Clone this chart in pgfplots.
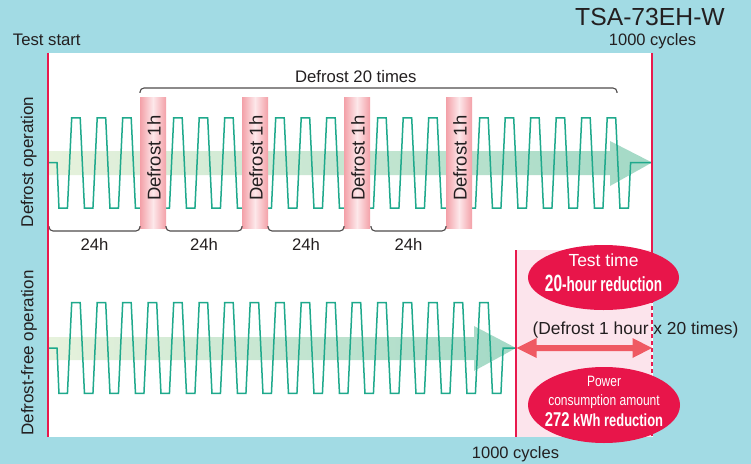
\documentclass[border=0pt]{standalone}
\usepackage{fontspec}
\setmainfont{Liberation Sans}
\usepackage{graphicx}
\usepackage{pgfplots}
\pgfplotsset{compat=1.18}
\definecolor{bg}{HTML}{A2DBE4}
\definecolor{txt}{HTML}{231F20}
\definecolor{wave}{HTML}{1FA98C}
\definecolor{crim}{HTML}{E8154A}
\definecolor{redline}{HTML}{E8194D}
\definecolor{pinkarea}{HTML}{FCE4EC}
\definecolor{barpink}{HTML}{F3A0A8}
\definecolor{barlight}{HTML}{FDE8EA}
\definecolor{grnL}{HTML}{E7F2DC}
\definecolor{grnR}{HTML}{A3D9C6}
\definecolor{dblarrow}{HTML}{EF5A63}
\newcommand\fs[1]{\fontsize{#1bp}{#1bp}\selectfont}
\begin{document}
\begin{tikzpicture}
\begin{axis}[width=751bp,height=464bp,scale only axis,
  xmin=0,xmax=751,ymin=0,ymax=464,y dir=reverse,hide axis,clip=false]
% background and panels
\fill[bg] (0,0) rectangle (751,464);
\fill[white] (48,53) rectangle (653,437);
\fill[pinkarea] (516,250) rectangle (652,437);
% green arrows
\shade[left color=grnL,right color=grnR] (48,151) -- (610,151) -- (610,141) -- (652,162.5) -- (610,186) -- (610,175) -- (48,175) -- cycle;
\shade[left color=grnL,right color=grnR] (48,337) -- (474,337) -- (474,326) -- (516,348) -- (474,371) -- (474,360) -- (48,360) -- cycle;
% top waveform
\addplot[wave,line width=1.5bp,mark=none] coordinates {
(48,162.5) (57,162.5) (58.95,208) (67.45,208)
(71.7,118) (80.2,118) (84.45,208) (92.95,208)
(97.2,118) (105.7,118) (109.95,208) (118.45,208)
(122.7,118) (131.2,118) (135.45,208) (143.95,208)
(148.2,118) (156.7,118) (160.95,208) (169.45,208)
(173.7,118) (182.2,118) (186.45,208) (194.95,208)
(199.2,118) (207.7,118) (211.95,208) (220.45,208)
(224.7,118) (233.2,118) (237.45,208) (245.95,208)
(250.2,118) (258.7,118) (262.95,208) (271.45,208)
(275.7,118) (284.2,118) (288.45,208) (296.95,208)
(301.2,118) (309.7,118) (313.95,208) (322.45,208)
(326.7,118) (335.2,118) (339.45,208) (347.95,208)
(352.2,118) (360.7,118) (364.95,208) (373.45,208)
(377.7,118) (386.2,118) (390.45,208) (398.95,208)
(403.2,118) (411.7,118) (415.95,208) (424.45,208)
(428.7,118) (437.2,118) (441.45,208) (449.95,208)
(454.2,118) (462.7,118) (466.95,208) (475.45,208)
(479.7,118) (488.2,118) (492.45,208) (500.95,208)
(505.2,118) (513.7,118) (517.95,208) (526.45,208)
(530.7,118) (539.2,118) (543.45,208) (551.95,208)
(556.2,118) (564.7,118) (568.95,208) (577.45,208)
(581.7,118) (590.2,118) (594.45,208) (602.95,208)
(607.2,118) (615.7,118) (619.95,208) (628.45,208)
(630.6,162.5) (652,162.5)};
% bottom waveform
\addplot[wave,line width=1.5bp,mark=none] coordinates {
(48,348) (57,348) (58.95,393.3) (67.45,393.3)
(71.7,302.7) (80.2,302.7) (84.45,393.3) (92.95,393.3)
(97.2,302.7) (105.7,302.7) (109.95,393.3) (118.45,393.3)
(122.7,302.7) (131.2,302.7) (135.45,393.3) (143.95,393.3)
(148.2,302.7) (156.7,302.7) (160.95,393.3) (169.45,393.3)
(173.7,302.7) (182.2,302.7) (186.45,393.3) (194.95,393.3)
(199.2,302.7) (207.7,302.7) (211.95,393.3) (220.45,393.3)
(224.7,302.7) (233.2,302.7) (237.45,393.3) (245.95,393.3)
(250.2,302.7) (258.7,302.7) (262.95,393.3) (271.45,393.3)
(275.7,302.7) (284.2,302.7) (288.45,393.3) (296.95,393.3)
(301.2,302.7) (309.7,302.7) (313.95,393.3) (322.45,393.3)
(326.7,302.7) (335.2,302.7) (339.45,393.3) (347.95,393.3)
(352.2,302.7) (360.7,302.7) (364.95,393.3) (373.45,393.3)
(377.7,302.7) (386.2,302.7) (390.45,393.3) (398.95,393.3)
(403.2,302.7) (411.7,302.7) (415.95,393.3) (424.45,393.3)
(428.7,302.7) (437.2,302.7) (441.45,393.3) (449.95,393.3)
(454.2,302.7) (462.7,302.7) (466.95,393.3) (475.45,393.3)
(479.7,302.7) (488.2,302.7) (492.45,393.3) (500.95,393.3)
(503.1,348) (516,348)};
% defrost bars
\shade[left color=barpink,right color=barpink,middle color=barlight] (140,98) rectangle (166,228);
\shade[left color=barpink,right color=barpink,middle color=barlight] (242,98) rectangle (268,228);
\shade[left color=barpink,right color=barpink,middle color=barlight] (344,98) rectangle (370,228);
\shade[left color=barpink,right color=barpink,middle color=barlight] (446,98) rectangle (472,228);
\node[rotate=90,anchor=base,text=txt,inner sep=0pt,font={\fs{18.5}}] at (160.7,158.3) {Defrost 1h};
\node[rotate=90,anchor=base,text=txt,inner sep=0pt,font={\fs{18.5}}] at (262.7,158.3) {Defrost 1h};
\node[rotate=90,anchor=base,text=txt,inner sep=0pt,font={\fs{18.5}}] at (364.7,158.3) {Defrost 1h};
\node[rotate=90,anchor=base,text=txt,inner sep=0pt,font={\fs{18.5}}] at (466.7,158.3) {Defrost 1h};
% brackets
\draw[txt!80,line width=1.1bp,rounded corners=4bp] (140,93) -- (140,88) -- (617,88) -- (617,93);
\node[anchor=base,text=txt,inner sep=0pt,font={\fs{16.7}}] at (355.8,82.7) {Defrost 20 times};
\draw[txt!80,line width=1.1bp,rounded corners=4bp] (49,226) -- (49,231) -- (140,231) -- (140,226);
\draw[txt!80,line width=1.1bp,rounded corners=4bp] (166,226) -- (166,231) -- (242,231) -- (242,226);
\draw[txt!80,line width=1.1bp,rounded corners=4bp] (268,226) -- (268,231) -- (344,231) -- (344,226);
\draw[txt!80,line width=1.1bp,rounded corners=4bp] (371,226) -- (371,231) -- (446,231) -- (446,226);
\node[anchor=base,text=txt,inner sep=0pt,font={\fs{16.7}}] at (94.5,250) {24h};
\node[anchor=base,text=txt,inner sep=0pt,font={\fs{16.7}}] at (204,250) {24h};
\node[anchor=base,text=txt,inner sep=0pt,font={\fs{16.7}}] at (306,250) {24h};
\node[anchor=base,text=txt,inner sep=0pt,font={\fs{16.7}}] at (408.5,250) {24h};
% red lines
\draw[redline,line width=2.2bp] (48,53) -- (48,437);
\draw[redline,line width=2bp] (652,53) -- (652,250);
\draw[redline,line width=1.6bp] (516,250) -- (516,437);
\draw[redline,line width=1.4bp,dash pattern=on 4bp off 3bp] (652,250) -- (652,437);
% double arrow
\fill[dblarrow] (516.5,348) -- (536.5,338) -- (536.5,345) -- (632.5,345) -- (632.5,338) -- (652,348) -- (632.5,358) -- (632.5,351) -- (536.5,351) -- (536.5,358) -- cycle;
\node[anchor=base,text=txt,inner sep=0pt,font={\fs{17.4}}] at (635.5,334.3) {(Defrost 1 hour x 20 times)};
% ellipses
\fill[crim] (603.5,277.5) ellipse [x radius=75.5,y radius=32.5];
\fill[crim] (604,405) ellipse [x radius=76,y radius=38];
\node[anchor=base,text=white,inner sep=0pt,font={\fs{17.5}}] at (603.5,266) {Test time};
\node[anchor=base,text=white,inner sep=0pt,font=\bfseries] at (603.5,291.7) {\scalebox{0.66}[1]{\fs{23.5}20\fs{20.5}-hour reduction}};
\node[anchor=base,text=white,inner sep=0pt] at (604,386.7) {\scalebox{0.8}[1]{\fs{15}Power}};
\node[anchor=base,text=white,inner sep=0pt] at (604,405) {\scalebox{0.8}[1]{\fs{15}consumption amount}};
\node[anchor=base,text=white,inner sep=0pt,font=\bfseries] at (604,426.7) {\scalebox{0.74}[1]{\fs{20}272\fs{17.5} kWh reduction}};
% outer labels
\node[anchor=base west,text=txt,inner sep=0pt,font={\fs{16.7}}] at (12.7,45.7) {Test start};
\node[anchor=base east,text=txt,inner sep=0pt,font={\fs{24.7}}] at (725,26) {TSA-73EH-W};
\node[anchor=base,text=txt,inner sep=0pt,font={\fs{16.5}}] at (652.5,46) {1000 cycles};
\node[anchor=base,text=txt,inner sep=0pt,font={\fs{16.5}}] at (515.5,458.3) {1000 cycles};
\node[rotate=90,anchor=base,text=txt,inner sep=0pt,font={\fs{17}}] at (33,162) {Defrost operation};
\node[rotate=90,anchor=base,text=txt,inner sep=0pt,font={\fs{17}}] at (33.3,353) {Defrost-free operation};
\end{axis}
\end{tikzpicture}
\end{document}
